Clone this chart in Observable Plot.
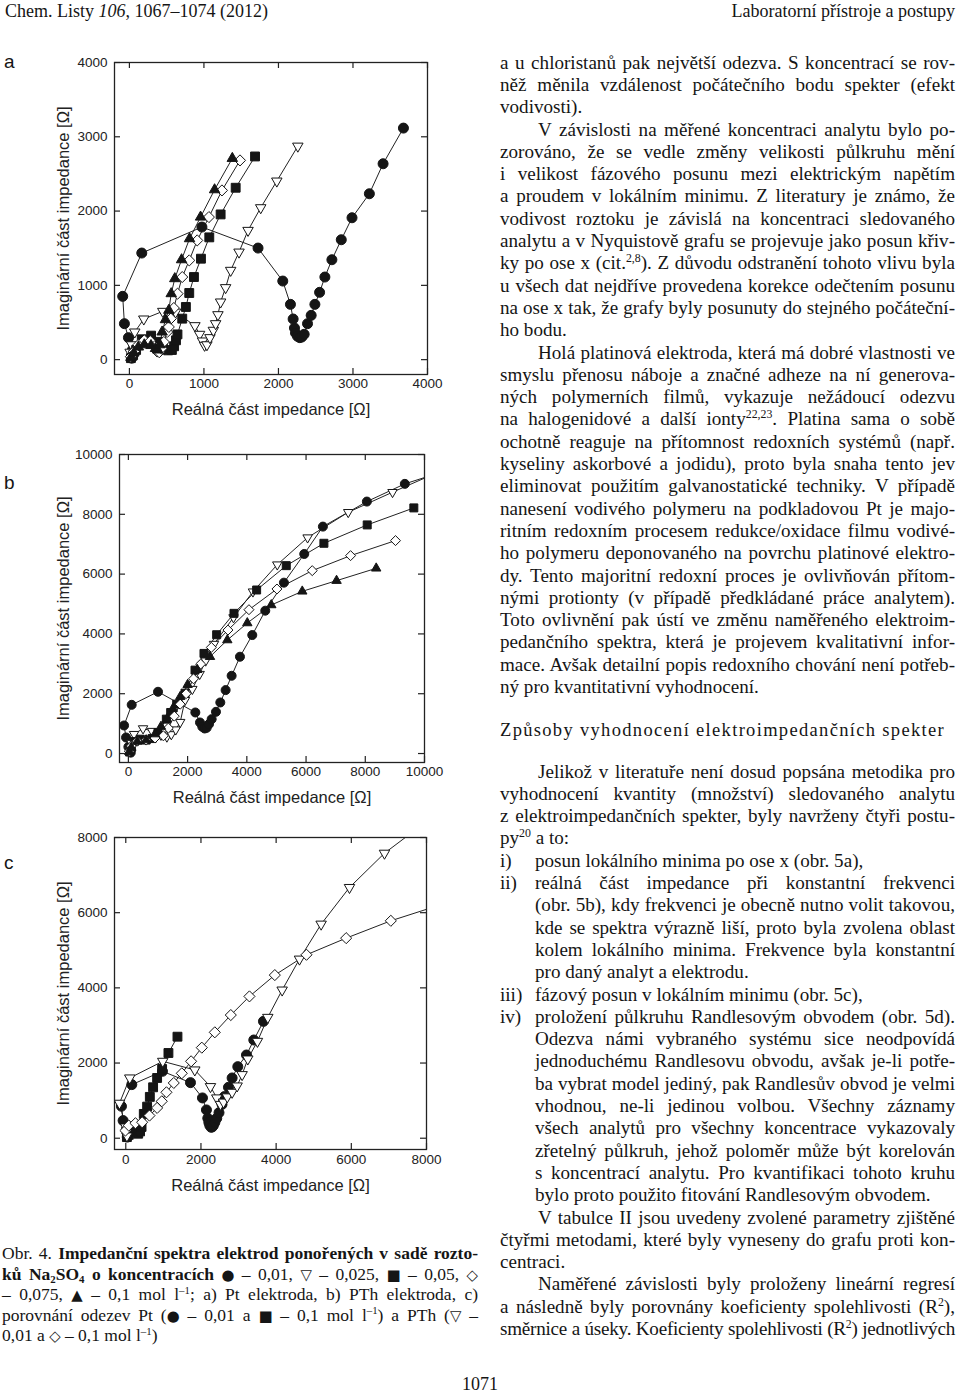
<!DOCTYPE html>
<html><head><meta charset="utf-8">
<script src="https://cdn.jsdelivr.net/npm/d3@7"></script>
<script src="https://cdn.jsdelivr.net/npm/@observablehq/plot@0.6"></script>
<style>
html,body{margin:0;padding:0;background:#fff;}
#page{position:relative;width:960px;height:1393px;overflow:hidden;font-family:"Liberation Serif","Times New Roman",serif;color:#151515;}
.ln{position:absolute;white-space:nowrap;line-height:22px;}
.ln sup{font-size:62%;position:relative;top:-0.6em;vertical-align:baseline;line-height:0}
.ln sub{font-size:62%;position:relative;top:0.3em;vertical-align:baseline;line-height:0}
.sym{font-family:"DejaVu Sans",sans-serif;font-size:85%;}
.chart{position:absolute;left:0;}
.plab{position:absolute;font-family:"Liberation Sans",Arial,sans-serif;font-size:19px;line-height:20px;}
</style></head><body><div id="page"></div>
<script>
// ---------- DATA ----------
const ticksA = [0, 1000, 2000, 3000, 4000];
const ticksB = [0, 2000, 4000, 6000, 8000, 10000];
const ticksC = [0, 2000, 4000, 6000, 8000];

// Chart a (Pt electrode): [real, imaginary]
const a_circle001 = [[30,20],[50,60],[40,130],[-13,296],[-67,484],[-90,852],[166,1435],[973,1785],[1726,1502],[2058,1058],[2161,744],[2197,547],[2215,426],[2229,359],[2256,314],[2287,296],[2314,305],[2345,341],[2390,484],[2439,596],[2489,744],[2552,906],[2623,1112],[2717,1345],[2843,1614],[2987,1910],[3220,2233],[3404,2637],[3677,3117]];
const a_tri0025 = [[10,100],[30,200],[72,372],[193,547],[448,650],[620,640],[879,457],[942,341],[982,251],[1009,193],[1040,200],[1081,296],[1126,395],[1157,484],[1188,605],[1224,776],[1291,969],[1359,1202],[1471,1448],[1592,1740],[1762,2045],[1978,2404],[2260,2874]];
const a_sq005 = [[20,20],[50,60],[90,130],[166,274],[291,323],[390,240],[450,160],[520,125],[570,130],[600,180],[625,260],[645,340],[709,552],[758,709],[803,897],[866,1112],[960,1359],[1072,1646],[1224,1955],[1426,2314],[1686,2735]];
const a_dia0075 = [[20,40],[60,110],[120,200],[200,260],[280,250],[340,180],[372,110],[400,100],[430,150],[462,238],[507,372],[529,440],[556,552],[596,695],[646,888],[709,1112],[803,1336],[910,1605],[1067,1919],[1242,2278],[1484,2682]];
const a_tri01 = [[20,30],[60,90],[120,170],[200,200],[290,190],[350,150],[380,130],[410,200],[439,372],[484,538],[529,664],[561,888],[609,1090],[700,1345],[807,1628],[955,1919],[1143,2287],[1381,2709]];

// Chart b (PTh electrode)
const b_circle001 = [[80,30],[60,100],[0,223],[-79,536],[-146,938],[112,1629],[1001,2065],[2261,1373],[2418,1038],[2497,893],[2576,837],[2643,859],[2722,982],[2812,1150],[2958,1395],[3104,1708],[3284,2121],[3487,2600],[3768,3237],[4184,3962],[4623,4777],[5253,5714],[5939,6674],[6569,7589],[8054,8426],[9336,9018],[10600,9420]];
const b_tri0025 = [[30,100],[100,350],[191,647],[495,837],[800,750],[1100,620],[1300,560],[1450,640],[1600,800],[1750,1050],[1912,1786],[2160,2154],[2407,2656],[2610,3103],[2891,3661],[3550,4550],[4207,5413],[5028,6317],[6052,7221],[7424,8069],[8920,8739],[10600,9470]];
const b_sq005 = [[40,50],[100,200],[200,400],[400,480],[600,450],[800,500],[1000,700],[1282,1150],[1428,1373],[1631,1652],[1912,2020],[2250,2790],[2553,3348],[2981,3973],[3566,4688],[4331,5469],[5332,6283],[6603,7031],[8065,7645],[9640,8214]];
const b_dia0075 = [[30,80],[100,250],[300,420],[600,450],[900,520],[1181,592],[1350,850],[1550,1250],[1750,1650],[1950,2000],[2200,2500],[2441,2991],[2801,3549],[3363,4129],[4072,4810],[5017,5502],[6209,6116],[7503,6618],[9021,7121]];
const b_tri01 = [[30,60],[100,200],[300,400],[600,450],[900,650],[1100,900],[1300,1150],[1500,1500],[1750,1900],[2000,2300],[2328,2801],[2756,3237],[3341,3795],[4016,4364],[4826,4967],[5872,5424],[7030,5781],[8369,6194]];

// Chart c (comparison Pt vs PTh)
const c_ptCircle001 = [[40,30],[60,120],[20,250],[-71,469],[-115,850],[160,1426],[976,1780],[1721,1479],[2040,1072],[2146,753],[2182,531],[2210,420],[2235,340],[2270,292],[2300,300],[2330,340],[2370,420],[2420,530],[2480,680],[2560,900],[2625,1107],[2732,1355],[2829,1603],[2980,1904],[3211,2214],[3406,2613],[3663,3109]];
const c_ptSq01 = [[30,30],[80,90],[150,180],[250,170],[330,120],[380,180],[420,300],[479,647],[568,841],[640,1100],[727,1355],[834,1603],[967,1842],[1135,2267],[1375,2701]];
const c_pthTri001 = [[30,60],[0,300],[-168,930],[106,1603],[984,2046],[1836,1816],[2253,1373],[2421,1072],[2519,900],[2600,960],[2700,1100],[2829,1222],[2962,1390],[3095,1692],[3246,2108],[3503,2577],[3778,3215],[4160,3942],[4621,4765],[5197,5695],[5951,6670],[6882,7582],[7900,8350]];
const c_pthDia01 = [[-9,204],[80,337],[257,399],[435,425],[630,602],[834,806],[958,983],[1082,1222],[1277,1470],[1490,1727],[1738,2046],[2022,2409],[2368,2817],[2794,3277],[3290,3773],[3965,4340],[4807,4880],[5863,5323],[7051,5784],[8500,6250]];

// symbol styles
const SYM = {
  circle:  {symbol: "circle",    fill: "#151515", rotate: 0},
  down:    {symbol: "triangle2", fill: "#fff",    rotate: 180},
  square:  {symbol: "square",    fill: "#151515", rotate: 0},
  diamond: {symbol: "diamond2",  fill: "#fff",    rotate: 0},
  up:      {symbol: "triangle2", fill: "#151515", rotate: 0}
};

const page = document.getElementById("page");

function chart(cfg) {
  const fw = cfg.right - cfg.left, fh = cfg.bottom - cfg.top;
  const mTop = 20, mBottom = 60;
  const marks = [];
  for (const s of cfg.series) {
    marks.push(Plot.line(s.data, {x: d => d[0], y: d => d[1], stroke: "#222", strokeWidth: 1, clip: true}));
  }
  for (const s of cfg.series) {
    const st = SYM[s.sym];
    marks.push(Plot.dot(s.data, {x: d => d[0], y: d => d[1], symbol: st.symbol, rotate: st.rotate, fill: st.fill, stroke: "#151515", strokeWidth: 1, r: cfg.r, clip: true}));
  }
  marks.push(Plot.frame({stroke: "#222", strokeWidth: 1.3}));
  const tk = {stroke: "#222", strokeWidth: 1.2};
  marks.push(Plot.tickX(cfg.xTicks, {x: d => d, insetTop: fh - 6, ...tk}));
  marks.push(Plot.tickX(cfg.xTicks, {x: d => d, insetBottom: fh - 6, ...tk}));
  marks.push(Plot.tickY(cfg.yTicks, {y: d => d, insetRight: fw - 6, ...tk}));
  marks.push(Plot.tickY(cfg.yTicks, {y: d => d, insetLeft: fw - 6, ...tk}));
  marks.push(Plot.text(cfg.xTicks, {x: d => d, text: d => String(d), frameAnchor: "bottom", dy: cfg.xLabDy, fontSize: 13.5, fill: "#222"}));
  marks.push(Plot.text(cfg.yTicks, {y: d => d, text: d => String(d), frameAnchor: "left", dx: -7, textAnchor: "end", fontSize: 13.5, fill: "#222"}));
  marks.push(Plot.text(["Reálná část impedance [Ω]"], {text: d => d, frameAnchor: "bottom", dy: cfg.xTitleDy, fontSize: 16.5, fill: "#222"}));
  marks.push(Plot.text(["Imaginární část impedance [Ω]"], {text: d => d, frameAnchor: "left", textAnchor: "middle", dx: -(cfg.left - 63), rotate: -90, fontSize: 16.5, fill: "#222"}));
  const svg = Plot.plot({
    width: 480,
    height: fh + mTop + mBottom,
    marginLeft: cfg.left, marginRight: 480 - cfg.right,
    marginTop: mTop, marginBottom: mBottom,
    x: {domain: cfg.xDomain, axis: null},
    y: {domain: cfg.yDomain, axis: null},
    style: {fontFamily: "'Liberation Sans', Arial, sans-serif", background: "transparent", overflow: "visible"},
    marks
  });
  svg.classList.add("chart");
  svg.style.top = (cfg.top - mTop) + "px";
  page.appendChild(svg);
  const lab = document.createElement("div");
  lab.className = "plab";
  lab.textContent = cfg.label;
  lab.style.left = "4px";
  lab.style.top = (cfg.labelY - 10) + "px";
  page.appendChild(lab);
}

chart({label: "a", labelY: 62, left: 114, right: 427, top: 62, bottom: 374, xDomain: [-200, 4000], yDomain: [-200, 4000],
  xTicks: ticksA, yTicks: ticksA, xLabDy: 13, xTitleDy: 40, r: 5,
  series: [{data: a_circle001, sym: "circle"}, {data: a_tri0025, sym: "down"}, {data: a_sq005, sym: "square"}, {data: a_dia0075, sym: "diamond"}, {data: a_tri01, sym: "up"}]});
chart({label: "b", labelY: 483, left: 119, right: 424, top: 454, bottom: 762, xDomain: [-300, 10000], yDomain: [-300, 10000],
  xTicks: ticksB, yTicks: ticksB, xLabDy: 13, xTitleDy: 40, r: 4.5,
  series: [{data: b_circle001, sym: "circle"}, {data: b_tri0025, sym: "down"}, {data: b_sq005, sym: "square"}, {data: b_dia0075, sym: "diamond"}, {data: b_tri01, sym: "up"}]});
chart({label: "c", labelY: 863, left: 114, right: 426, top: 837, bottom: 1149, xDomain: [-300, 8000], yDomain: [-300, 8000],
  xTicks: ticksC, yTicks: ticksC, xLabDy: 14, xTitleDy: 41, r: 5,
  series: [{data: c_ptCircle001, sym: "circle"}, {data: c_ptSq01, sym: "square"}, {data: c_pthTri001, sym: "down"}, {data: c_pthDia01, sym: "diamond"}]});

// ---------- TEXT ----------
function addLine(html, x, yc, w, mode, size, extra) {
  const el = document.createElement("div");
  el.className = "ln";
  el.innerHTML = html;
  el.style.left = x + "px";
  el.style.top = (yc - 11) + "px";
  el.style.fontSize = size + "px";
  if (extra) Object.assign(el.style, extra);
  page.appendChild(el);
  const nat = el.getBoundingClientRect().width;
  if (mode === "j") {
    const n = (el.textContent.match(/ /g) || []).length;
    const extraW = w - nat;
    if (extraW >= 0 || n === 0) {
      if (n > 0) el.style.wordSpacing = (extraW / n) + "px";
    } else {
      // too long: tighten letters slightly instead of collapsing spaces
      const chars = el.textContent.length;
      el.style.letterSpacing = (extraW / chars) + "px";
    }
  } else if (mode === "ls") {
    const n = el.textContent.length;
    el.style.letterSpacing = ((w - nat) / n) + "px";
  }
  return el;
}

// header
addLine("Chem. Listy <i>106</i>, 1067–1074 (2012)", 5, 11, 0, "l", 18);
const rh = addLine("Laboratorní přístroje a postupy", 0, 11, 0, "l", 18);
rh.style.left = (955 - rh.getBoundingClientRect().width) + "px";

const BODY = 19.1;
const col1 = [
  ["j", 0, "a u chloristanů pak největší odezva. S koncentrací se rov-"],
  ["j", 0, "něž měnila vzdálenost počátečního bodu spekter (efekt"],
  ["l", 0, "vodivosti)."],
  ["j", 1, "V závislosti na měřené koncentraci analytu bylo po-"],
  ["j", 0, "zorováno, že se vedle změny velikosti půlkruhu mění"],
  ["j", 0, "i velikost fázového posunu mezi elektrickým napětím"],
  ["j", 0, "a proudem v lokálním minimu. Z literatury je známo, že"],
  ["j", 0, "vodivost roztoku je závislá na koncentraci sledovaného"],
  ["j", 0, "analytu a v Nyquistově grafu se projevuje jako posun křiv-"],
  ["j", 0, "ky po ose x (cit.<sup>2,8</sup>). Z důvodu odstranění tohoto vlivu byla"],
  ["j", 0, "u všech dat nejdříve provedena korekce odečtením posunu"],
  ["j", 0, "na ose x tak, že grafy byly posunuty do stejného počáteční-"],
  ["l", 0, "ho bodu."],
  ["j", 1, "Holá platinová elektroda, která má dobré vlastnosti ve"],
  ["j", 0, "smyslu přenosu náboje a značné adheze na ní generova-"],
  ["j", 0, "ných polymerních filmů, vykazuje nežádoucí odezvu"],
  ["j", 0, "na halogenidové a další ionty<sup>22,23</sup>. Platina sama o sobě"],
  ["j", 0, "ochotně reaguje na přítomnost redoxních systémů (např."],
  ["j", 0, "kyseliny askorbové a jodidu), proto byla snaha tento jev"],
  ["j", 0, "eliminovat použitím galvanostatické techniky. V případě"],
  ["j", 0, "nanesení vodivého polymeru na podkladovou Pt je majo-"],
  ["j", 0, "ritním redoxním procesem redukce/oxidace filmu vodivé-"],
  ["j", 0, "ho polymeru deponovaného na povrchu platinové elektro-"],
  ["j", 0, "dy. Tento majoritní redoxní proces je ovlivňován přítom-"],
  ["j", 0, "nými protionty (v případě předkládané práce analytem)."],
  ["j", 0, "Toto ovlivnění pak ústí ve změnu naměřeného elektroim-"],
  ["j", 0, "pedančního spektra, která je projevem kvalitativní infor-"],
  ["j", 0, "mace. Avšak detailní popis redoxního chování není potřeb-"],
  ["l", 0, "ný pro kvantitativní vyhodnocení."]
];
col1.forEach((L, i) => {
  const yc = 62.6 + 22.3 * i;
  const x = L[1] ? 538 : 500;
  addLine(L[2], x, yc, 955 - x, L[0], BODY);
});

addLine("Způsoby vyhodnocení elektroimpedančních spekter", 500, 730, 445, "ls", 18.5);

const col2 = [
  ["j", "p", "Jelikož v literatuře není dosud popsána metodika pro"],
  ["j", "", "vyhodnocení kvantity (množství) sledovaného analytu"],
  ["j", "", "z elektroimpedančních spekter, byly navrženy čtyři postu-"],
  ["l", "", "py<sup>20</sup> a to:"],
  ["l", "i)", "posun lokálního minima po ose x (obr. 5a),"],
  ["j", "ii)", "reálná část impedance při konstantní frekvenci"],
  ["j", "c", "(obr. 5b), kdy frekvenci je obecně nutno volit takovou,"],
  ["j", "c", "kde se spektra výrazně liší, proto byla zvolena oblast"],
  ["j", "c", "kolem lokálního minima. Frekvence byla konstantní"],
  ["l", "c", "pro daný analyt a elektrodu."],
  ["l", "iii)", "fázový posun v lokálním minimu (obr. 5c),"],
  ["j", "iv)", "proložení půlkruhu Randlesovým obvodem (obr. 5d)."],
  ["j", "c", "Odezva námi vybraného systému sice neodpovídá"],
  ["j", "c", "jednoduchému Randlesovu obvodu, avšak je-li potře-"],
  ["j", "c", "ba vybrat model jediný, pak Randlesův obvod je velmi"],
  ["j", "c", "vhodnou, ne-li jedinou volbou. Všechny záznamy"],
  ["j", "c", "všech analytů pro všechny koncentrace vykazovaly"],
  ["j", "c", "zřetelný půlkruh, jehož poloměr může být korelován"],
  ["j", "c", "s koncentrací analytu. Pro kvantifikaci tohoto kruhu"],
  ["l", "c", "bylo proto použito fitování Randlesovým obvodem."],
  ["j", "p", "V tabulce II jsou uvedeny zvolené parametry zjištěné"],
  ["j", "", "čtyřmi metodami, které byly vyneseny do grafu proti kon-"],
  ["l", "", "centraci."],
  ["j", "p", "Naměřené závislosti byly proloženy lineární regresí"],
  ["j", "", "a následně byly porovnány koeficienty spolehlivosti (R<sup>2</sup>),"],
  ["j", "", "směrnice a úseky. Koeficienty spolehlivosti (R<sup>2</sup>) jednotlivých"]
];
col2.forEach((L, i) => {
  const yc = 771.5 + 22.3 * i;
  let x = 500;
  if (L[1] === "p") x = 538;
  else if (L[1] === "c") x = 535;
  else if (L[1]) { addLine(L[1], 500, yc, 0, "l", BODY); x = 535; }
  addLine(L[2], x, yc, 955 - x, L[0], BODY);
});

// caption
const CAP = 17.5;
const cap = [
  ["j", "Obr. 4. <b>Impedanční spektra elektrod ponořených v sadě rozto-</b>"],
  ["j", "<b>ků Na<sub>2</sub>SO<sub>4</sub> o koncentracích</b> <span class='sym'>●</span> – 0,01, <span class='sym'>▽</span> – 0,025, <span class='sym'>■</span> – 0,05, <span class='sym'>◇</span>"],
  ["j", "– 0,075, <span class='sym'>▲</span> – 0,1 mol l<sup>–1</sup>; a) Pt elektroda, b) PTh elektroda, c)"],
  ["j", "porovnání odezev Pt (<span class='sym'>●</span> – 0,01 a <span class='sym'>■</span> – 0,1 mol l<sup>–1</sup>) a PTh (<span class='sym'>▽</span> –"],
  ["l", "0,01 a <span class='sym'>◇</span> – 0,1 mol l<sup>–1</sup>)"]
];
cap.forEach((L, i) => addLine(L[1], 2, 1253 + 20.6 * i, 476, L[0], CAP));

// page number
const pn = addLine("1071", 0, 1384, 0, "l", 18);
pn.style.left = (480 - pn.getBoundingClientRect().width / 2) + "px";
</script></body></html>
